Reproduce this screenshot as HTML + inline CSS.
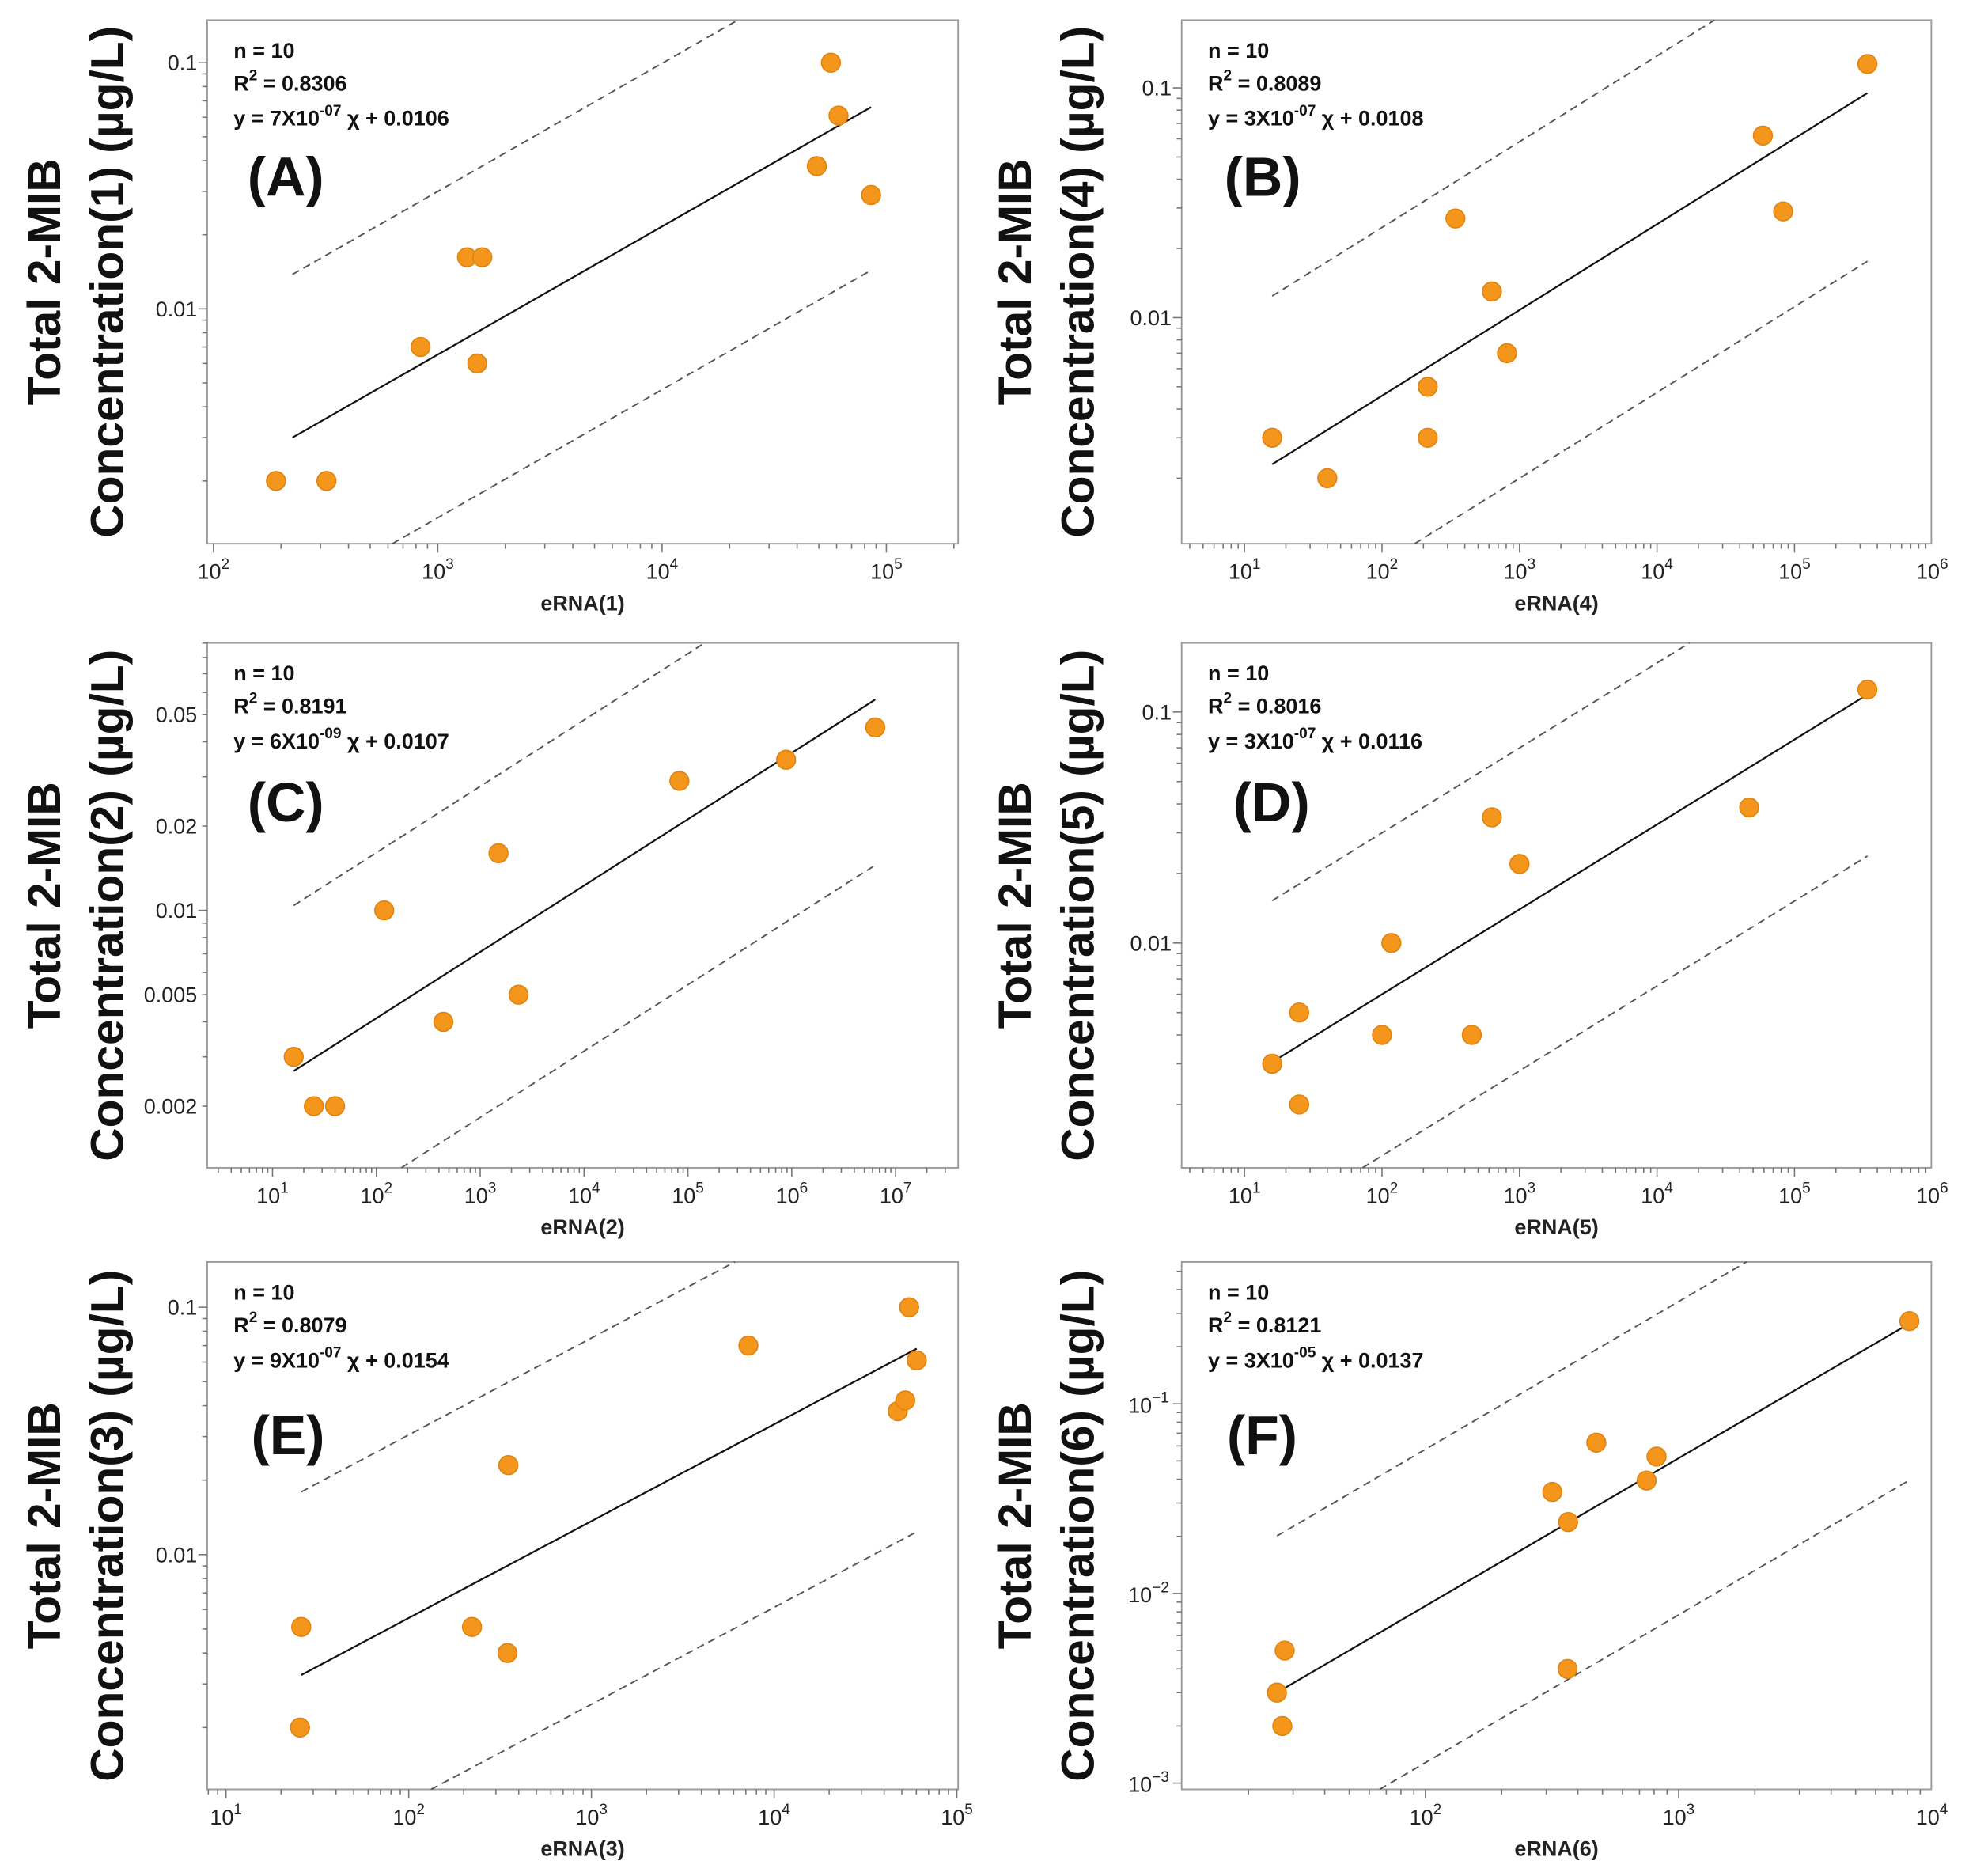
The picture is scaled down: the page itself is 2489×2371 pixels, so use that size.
<!DOCTYPE html>
<html><head><meta charset="utf-8"><style>
html,body{margin:0;padding:0;background:#fff;width:2489px;height:2371px;overflow:hidden}
svg{display:block;position:absolute;left:0;top:0}
text{font-family:"Liberation Sans",sans-serif}
</style></head><body>
<svg id="fig" width="2489" height="2371" viewBox="0 0 1568 1494" preserveAspectRatio="none" xmlns="http://www.w3.org/2000/svg"></svg>
<script>
// ---- data ----
const aX=[190,319,838,1350,1580,1500,49000,56600,61200,85500];
const aY=[0.002,0.002,0.007,0.0162,0.0162,0.006,0.038,0.1,0.061,0.029];
const aFit=[225,85500,0.0030,0.066,4.6];
const bX=[15.9,40,215,215,342,630,811,58900,82700,339000];
const bY=[0.003,0.002,0.005,0.003,0.027,0.013,0.007,0.062,0.029,0.127];
const bFit=[15.9,339000,0.0023,0.095,5.4];
const cX=[16,25,40,119,442,1500,2340,82800,882000,6370000];
const cY=[0.003,0.002,0.002,0.01,0.004,0.016,0.005,0.029,0.0345,0.045];
const cFit=[16,6370000,0.00267,0.0566,3.9];
const dX=[15.9,25,25,100,117,450,630,1000,46800,339000];
const dY=[0.003,0.005,0.002,0.004,0.01,0.004,0.035,0.022,0.0386,0.125];
const dFit=[15.9,339000,0.00305,0.119,5.0];
const eX=[25.8,25.4,222,347,351,7230,47500,52200,54800,60300];
const eY=[0.0051,0.002,0.0051,0.004,0.023,0.070,0.038,0.042,0.1,0.061];
const eFit=[25.8,60300,0.00326,0.068,5.5];
const fX=[25.9,27.2,27.8,317,364,366,473,747,818,8150];
const fY=[0.003,0.002,0.005,0.0343,0.004,0.0238,0.0624,0.0394,0.0527,0.273];
const fFit=[25.9,8150,0.003,0.265,6.7];
const xTicksA=[2,3,4,5], xTicksB=[1,2,3,4,5,6], xTicksC=[1,2,3,4,5,6,7], xTicksE=[1,2,3,4,5], xTicksF=[2,3,4];
const yLabelsDec=[0.1,0.01], yLabelsC=[0.05,0.02,0.01,0.005,0.002], yExpF=[-1,-2,-3];
const stats=[
 ["A","1","0.8306","7","-07","0.0106"],["B","4","0.8089","3","-07","0.0108"],
 ["C","2","0.8191","6","-09","0.0107"],["D","5","0.8016","3","-07","0.0116"],
 ["E","3","0.8079","9","-07","0.0154"],["F","6","0.8121","3","-05","0.0137"]];

// ---- layout ----
const panels=[
 {x:165,y:16,w:598,h:417,xd:[1.972,5.32],yd:[-2.954,-0.827],X:aX,Y:aY,fit:aFit,xt:xTicksA,yl:yLabelsDec,s:stats[0],tx:35,lbl:[197,138]},
 {x:941,y:16,w:597,h:417,xd:[0.543,5.995],yd:[-2.984,-0.705],X:bX,Y:bY,fit:bFit,xt:xTicksB,yl:yLabelsDec,s:stats[1],tx:808,lbl:[975,138]},
 {x:165,y:512,w:598,h:418,xd:[0.371,7.602],yd:[-2.919,-1.045],X:cX,Y:cY,fit:cFit,xt:xTicksC,yl:yLabelsC,s:stats[2],tx:35,lbl:[197,636]},
 {x:941,y:512,w:597,h:418,xd:[0.543,5.995],yd:[-2.973,-0.701],X:dX,Y:dY,fit:dFit,xt:xTicksB,yl:yLabelsDec,s:stats[3],tx:808,lbl:[982,636]},
 {x:165,y:1005,w:598,h:420,xd:[0.897,5.007],yd:[-2.949,-0.817],X:eX,Y:eY,fit:eFit,xt:xTicksE,yl:yLabelsDec,s:stats[4],tx:35,lbl:[200,1140]},
 {x:941,y:1005,w:597,h:420,xd:[1.037,3.998],yd:[-3.033,-0.252],X:fX,Y:fY,fit:fFit,xt:xTicksF,yl:null,yexp:yExpF,s:stats[5],tx:808,lbl:[977,1140]}
];
const NS="http://www.w3.org/2000/svg";
const svg=document.getElementById('fig');
function mk(tag,at,parent){const e=document.createElementNS(NS,tag);for(const k in at)e.setAttribute(k,at[k]);(parent||svg).appendChild(e);return e;}

panels.forEach((p,i)=>{
 const g=mk('g',{});
 
 
 const sx=v=>p.x+(Math.log10(v)-p.xd[0])/(p.xd[1]-p.xd[0])*p.w;
 const sy=v=>p.y+p.h-(Math.log10(v)-p.yd[0])/(p.yd[1]-p.yd[0])*p.h;
 const frame=mk('rect',{x:p.x,y:p.y,width:p.w,height:p.h,fill:'none',stroke:'#9a9a9a','stroke-width':1.2},g);
 
 
 for(let d=Math.floor(p.xd[0]);d<=Math.ceil(p.xd[1]);d++){
  for(let m=1;m<10;m++){const v=m*Math.pow(10,d);const lv=Math.log10(v);if(lv<p.xd[0]||lv>p.xd[1])continue;
   const X=sx(v);mk('line',{x1:X,x2:X,y1:p.y+p.h,y2:p.y+p.h+(m===1?7:4),stroke:'#777','stroke-width':1},g);}
 }
 p.xt.forEach(e=>{const t=mk('text',{x:sx(Math.pow(10,e)),y:p.y+p.h+28,'text-anchor':'middle','font-size':17,fill:'#222'},g);
  
  
  t.textContent='10';const s=mk('tspan',{dy:-8,'font-size':12},t);s.textContent=e;});
 for(let d=Math.floor(p.yd[0]);d<=Math.ceil(p.yd[1]);d++){
  for(let m=1;m<10;m++){const v=m*Math.pow(10,d);const lv=Math.log10(v);if(lv<p.yd[0]||lv>p.yd[1])continue;
   const Y=sy(v);mk('line',{x1:p.x,x2:p.x-(m===1?7:4),y1:Y,y2:Y,stroke:'#777','stroke-width':1},g);}
 }
 if(p.yl){p.yl.forEach(v=>{const t=mk('text',{x:p.x-8,y:sy(v)+6,'text-anchor':'end','font-size':17,fill:'#222'},g);
  
  
  t.textContent=String(v);});}
 else{p.yexp.forEach(e=>{const t=mk('text',{x:p.x-10,y:sy(Math.pow(10,e))+7,'text-anchor':'end','font-size':17,fill:'#222'},g);
  
  
  t.textContent='10';const s=mk('tspan',{dy:-8,'font-size':12},t);s.textContent='\u2212'+(-e);});}
 const f=p.fit;
 const x0=sx(f[0]),y0=sy(f[2]),x1=sx(f[1]),y1=sy(f[3]);
 const fl=mk('line',{x1:x0,y1:y0,x2:x1,y2:y1,stroke:'#111','stroke-width':1.4},g);
 
 
 const slope=(y1-y0)/(x1-x0);
 // upper band: starts at fit start, ends at top edge or fit end (whichever first)
 const uy0=sy(f[2]*f[4]), uy1=sy(f[3]*f[4]);
 let ux1=x1,uyEnd=uy1;
 if(uy1<p.y){ux1=x0+(p.y-uy0)/slope;uyEnd=p.y;}
 const up=mk('line',{x1:x0,y1:uy0,x2:ux1,y2:uyEnd,stroke:'#555','stroke-width':1.2,'stroke-dasharray':'6,4'},g);
 
 
 const ly0=sy(f[2]/f[4]), ly1=sy(f[3]/f[4]);
 let lx0=x0,lyStart=ly0;
 if(ly0>p.y+p.h){lx0=x1+(p.y+p.h-ly1)/slope;lyStart=p.y+p.h;}
 const lo=mk('line',{x1:lx0,y1:lyStart,x2:x1,y2:ly1,stroke:'#555','stroke-width':1.2,'stroke-dasharray':'6,4'},g);
 
 
 p.X.forEach((xv,j)=>{const c=mk('circle',{cx:sx(xv),cy:sy(p.Y[j]),r:7.5,fill:'#F5961C',stroke:'#E08410','stroke-width':1},g);
  
  });
 const s=p.s;const ax=p.x+21;
 let t=mk('text',{x:ax,y:p.y+30,'font-size':17,'font-weight':'bold',fill:'#111'},g);t.textContent='n = 10';
 
 
 t=mk('text',{x:ax,y:p.y+56,'font-size':17,'font-weight':'bold',fill:'#111'},g);
 
 
 t.textContent='R';let ts=mk('tspan',{dy:-8,'font-size':12},t);ts.textContent='2';ts=mk('tspan',{dy:8},t);ts.textContent=' = '+s[2];
 t=mk('text',{x:ax,y:p.y+84,'font-size':17,'font-weight':'bold',fill:'#111'},g);
 
 
 t.textContent='y = '+s[3]+'X10';ts=mk('tspan',{dy:-8,'font-size':12},t);ts.textContent=s[4];ts=mk('tspan',{dy:8},t);ts.textContent=' \u03c7 + '+s[5];
 t=mk('text',{x:p.lbl[0],y:p.lbl[1]+18,'font-size':44,'font-weight':'bold',fill:'#111'},g);t.textContent='('+s[0]+')';
 
 
 t=mk('text',{x:p.x+p.w/2,y:p.y+p.h+53,'text-anchor':'middle','font-size':17,'font-weight':'bold',fill:'#222'},g);t.textContent='eRNA('+s[1]+')';
 
 
 const cy=p.y+p.h/2;
 t=mk('text',{transform:'translate('+(p.tx+13)+','+cy+') rotate(-90)','text-anchor':'middle','font-size':37,'font-weight':'bold',fill:'#111'},g);
 
 
 ts=mk('tspan',{x:0,dy:0},t);ts.textContent='Total 2-MIB';
 ts=mk('tspan',{x:0,dy:50},t);ts.textContent='Concentration('+s[1]+') (\u00b5g/L)';
});
mk('rect',{x:104,y:232,width:14,height:22,fill:'#fff'});
</script>
</body></html>
